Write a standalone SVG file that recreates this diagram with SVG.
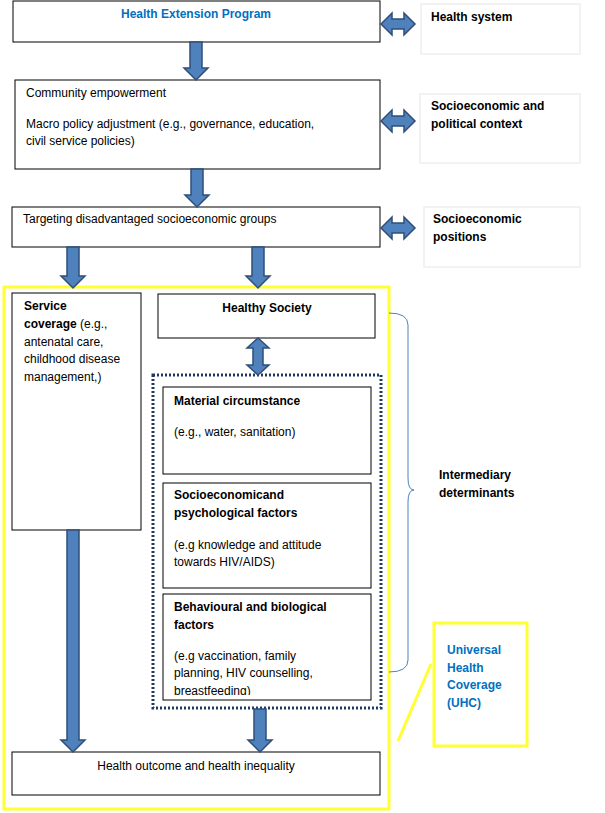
<svg xmlns="http://www.w3.org/2000/svg" width="605" height="813" viewBox="0 0 605 813">
<style>
text{font-family:"Liberation Sans",Arial,sans-serif;font-size:12px;fill:#000}
.b{font-weight:bold}
.blue{fill:#0070C0;font-weight:bold}
.box{fill:#fff;stroke:#000;stroke-width:1}
.side{fill:#fff;stroke:#e6e6e6;stroke-width:1}
.arr{fill:#4F81BD;stroke:#2F4F78;stroke-width:1.5}
</style>
<rect width="605" height="813" fill="#fff"/>
<g id="yellow-frame"><rect x="4" y="287" width="385" height="522" fill="none" stroke="#FFFF33" stroke-width="3"/></g>
<g id="hep"><rect class="box" x="13" y="1" width="367" height="41"/><text class="blue" x="196" y="18" text-anchor="middle">Health Extension Program</text></g>
<g id="health-system"><rect class="side" x="421" y="4" width="159" height="50"/><text class="b" x="431" y="21">Health system</text></g>
<g id="community"><rect class="box" x="15" y="80" width="365" height="89"/><text x="26" y="97">Community empowerment</text><text x="26" y="128">Macro policy adjustment (e.g., governance, education,</text><text x="26" y="145">civil service policies)</text></g>
<g id="socio-political"><rect class="side" x="420" y="94" width="160" height="69"/><text class="b" x="431" y="110">Socioeconomic and</text><text class="b" x="431" y="128">political context</text></g>
<g id="targeting"><rect class="box" x="12" y="207" width="368" height="40"/><text x="23" y="223">Targeting disadvantaged socioeconomic groups</text></g>
<g id="socio-positions"><rect class="side" x="424" y="207" width="156" height="60"/><text class="b" x="433" y="223">Socioeconomic</text><text class="b" x="433" y="241">positions</text></g>
<g id="service"><rect class="box" x="12" y="293" width="129" height="237"/><text x="24" y="310"><tspan class="b">Service</tspan></text><text x="24" y="328"><tspan class="b">coverage</tspan> (e.g.,</text><text x="24" y="346">antenatal care,</text><text x="24" y="363">childhood disease</text><text x="24" y="381">management,)</text></g>
<g id="healthy-society"><rect class="box" x="158" y="294" width="217" height="44"/><text class="b" x="267" y="312" text-anchor="middle">Healthy Society</text></g>
<g id="intermediary"><rect x="153" y="375" width="228" height="333" fill="none" stroke="#1F3864" stroke-width="3" stroke-dasharray="2,2"/></g>
<g id="material"><rect class="box" x="163" y="387" width="208" height="87"/><text class="b" x="174" y="405">Material circumstance</text><text x="174" y="436">(e.g., water, sanitation)</text></g>
<g id="psycho"><rect class="box" x="163" y="483" width="208" height="105"/><text class="b" x="174" y="499">Socioeconomicand</text><text class="b" x="174" y="517">psychological factors</text><text x="174" y="549">(e.g knowledge and attitude</text><text x="174" y="566">towards HIV/AIDS)</text></g>
<g id="behaviour"><rect class="box" x="163" y="594" width="208" height="106"/><text class="b" x="174" y="611">Behavioural and biological</text><text class="b" x="174" y="629">factors</text><text x="174" y="660">(e.g vaccination, family</text><text x="174" y="677">planning, HIV counselling,</text><clipPath id="c"><rect x="164" y="595" width="206" height="100"/></clipPath><text x="174" y="695" clip-path="url(#c)">breastfeeding)</text></g>
<g id="outcome"><rect class="box" x="12" y="752" width="368" height="43"/><text x="196" y="770" text-anchor="middle">Health outcome and health inequality</text></g>
<g id="uhc"><rect x="434" y="623" width="93" height="123" fill="#fff" stroke="#FFFF33" stroke-width="3"/><text class="blue" x="447" y="654">Universal</text><text class="blue" x="447" y="672">Health</text><text class="blue" x="447" y="689">Coverage</text><text class="blue" x="447" y="707">(UHC)</text></g>
<g id="label-intermediary"><text class="b" x="439" y="479">Intermediary</text><text class="b" x="439" y="497">determinants</text></g>
<g id="connectors">
<path d="M389 313 Q408 313 408 325 V478 Q408 490 414 490 Q408 490 408 502 V660 Q408 672 389 672" fill="none" stroke="#4F81BD" stroke-width="1"/>
<line x1="398" y1="741" x2="431" y2="664" stroke="#FFFF33" stroke-width="3"/>
<path class="arr" d="M190 42 H202 V68 H208 L196 80 L184 68 H190 Z"/>
<path class="arr" d="M191 169 H203 V195 H209 L197 207 L185 195 H191 Z"/>
<path class="arr" d="M67 247 H79 V276 H85 L73 288 L61 276 H67 Z"/>
<path class="arr" d="M252 247 H264 V276 H270 L258 288 L246 276 H252 Z"/>
<path class="arr" d="M67 530 H79 V740 H85 L73 752 L61 740 H67 Z"/>
<path class="arr" d="M254 709 H266 V740 H272 L260 752 L248 740 H254 Z"/>
<path class="arr" d="M258 338 L269 348 H263 V365 H269 L258 375 L247 365 H253 V348 H247 Z"/>
<path class="arr" d="M381 24 L392 13 V19 H404 V13 L415 24 L404 35 V29 H392 V35 Z"/>
<path class="arr" d="M381 121 L392 110 V116 H404 V110 L415 121 L404 132 V126 H392 V132 Z"/>
<path class="arr" d="M381 228 L392 217 V223 H404 V217 L415 228 L404 239 V233 H392 V239 Z"/>
</g>
</svg>
